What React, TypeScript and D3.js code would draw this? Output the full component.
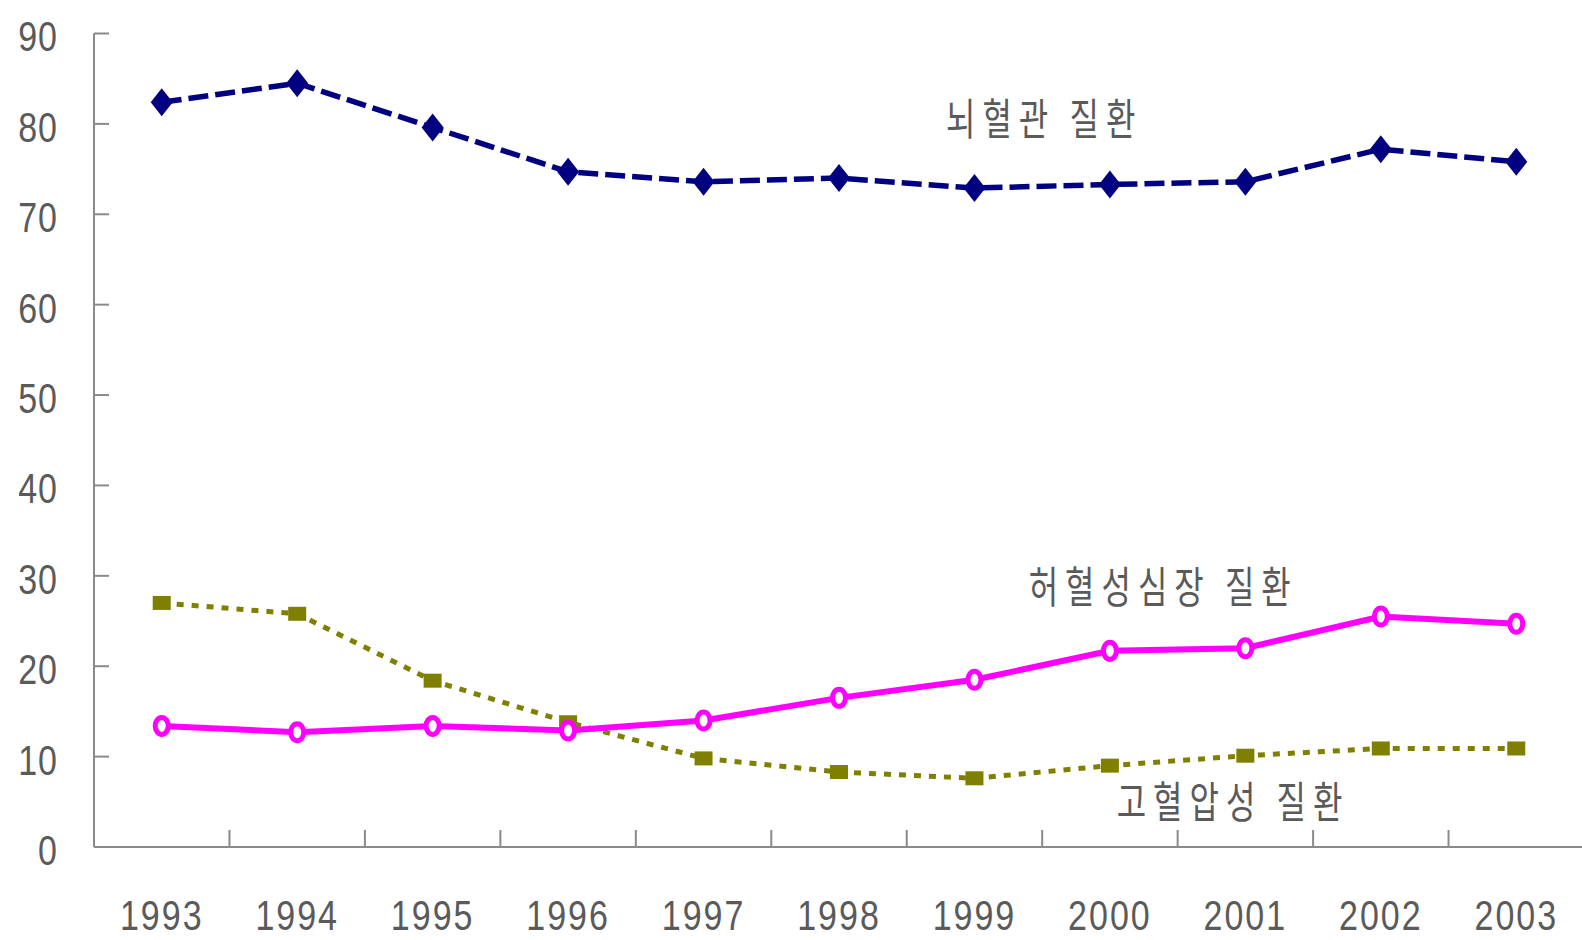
import React, { useRef, useEffect } from 'react';
import * as d3 from 'd3';

const years = ['1993', '1994', '1995', '1996', '1997', '1998', '1999', '2000', '2001', '2002', '2003'];
const yTicks = [0, 10, 20, 30, 40, 50, 60, 70, 80, 90];
// 뇌혈관 질환
const cerebro = [82.4, 84.5, 79.6, 74.7, 73.6, 74.0, 72.9, 73.3, 73.6, 77.2, 75.8];
// 허혈성심장 질환
const ischemic = [13.4, 12.7, 13.4, 12.9, 14.0, 16.5, 18.5, 21.7, 22.0, 25.5, 24.7];
// 고혈압성 질환
const hypertensive = [27.0, 25.8, 18.4, 13.8, 9.8, 8.3, 7.6, 9.0, 10.1, 10.9, 10.9];

const seriesLabels = ['뇌혈관 질환', '허혈성심장 질환', '고혈압성 질환'];
// 라벨 위치 (데이터 좌표: 연도 인덱스, 값)
const labelYear = [5.79, 6.4, 7.05];
const labelValue = [80.9, 29.1, 5.3];

const AXIS_COLOR = '#8a8a8a';
const TEXT_COLOR = '#5a5a5a';
const KO_FONT = '"Noto Sans CJK KR", "Noto Sans", sans-serif';
const NUM_FONT = '"Liberation Sans", Arial, sans-serif';

function drawChart(svgEle: SVGSVGElement) {
  const svg = d3.select(svgEle);
  svg.selectAll('*').remove();

  const left = 94;
  const right = 1584;
  const bottom = 847;
  const top = 33.5;

  const x = d3.scaleBand<string>().domain(years).range([left, right]);
  const cx = (i: number) => (x(years[i]) as number) + x.bandwidth() / 2;
  const y = d3.scaleLinear().domain([0, 90]).range([bottom, top]);

  // y 축
  svg.append('line')
    .attr('x1', left).attr('x2', left)
    .attr('y1', y(90)).attr('y2', y(0))
    .attr('stroke', AXIS_COLOR).attr('stroke-width', 2);
  svg.selectAll('.ytick')
    .data(yTicks)
    .enter()
    .append('line')
    .attr('x1', left).attr('x2', left + 15)
    .attr('y1', (d) => y(d)).attr('y2', (d) => y(d))
    .attr('stroke', AXIS_COLOR).attr('stroke-width', 2);
  svg.selectAll('.ylabel')
    .data(yTicks)
    .enter()
    .append('text')
    .attr('transform', (d) => `translate(58, ${y(d) + 3}) scale(1, 1.25)`)
    .attr('text-anchor', 'end')
    .attr('dominant-baseline', 'central')
    .attr('font-family', NUM_FONT)
    .attr('font-size', 34)
    .attr('letter-spacing', 1)
    .attr('fill', TEXT_COLOR)
    .text((d) => d);

  // x 축
  svg.append('line')
    .attr('x1', left).attr('x2', 1582)
    .attr('y1', bottom).attr('y2', bottom)
    .attr('stroke', AXIS_COLOR).attr('stroke-width', 2);
  svg.selectAll('.xtick')
    .data(years.slice(1))
    .enter()
    .append('line')
    .attr('x1', (d) => x(d) as number).attr('x2', (d) => x(d) as number)
    .attr('y1', bottom).attr('y2', bottom - 17)
    .attr('stroke', AXIS_COLOR).attr('stroke-width', 2);
  svg.selectAll('.xlabel')
    .data(years)
    .enter()
    .append('text')
    .attr('transform', (d, i) => `translate(${cx(i)}, 915) scale(1, 1.25)`)
    .attr('text-anchor', 'middle')
    .attr('dominant-baseline', 'central')
    .attr('font-family', NUM_FONT)
    .attr('font-size', 34)
    .attr('letter-spacing', 2)
    .attr('fill', TEXT_COLOR)
    .text((d) => d);

  const line = d3.line<number>()
    .x((d, i) => cx(i))
    .y((d) => y(d));

  // 고혈압성 질환 (점선)
  svg.append('path')
    .datum(hypertensive)
    .attr('d', line)
    .attr('fill', 'none')
    .attr('stroke', '#808000')
    .attr('stroke-width', 5)
    .attr('stroke-dasharray', '7 8');
  svg.selectAll('.sq')
    .data(hypertensive)
    .enter()
    .append('rect')
    .attr('x', (d, i) => cx(i) - 9)
    .attr('y', (d) => y(d) - 7)
    .attr('width', 18)
    .attr('height', 14)
    .attr('fill', '#808000');

  // 허혈성심장 질환 (실선)
  svg.append('path')
    .datum(ischemic)
    .attr('d', line)
    .attr('fill', 'none')
    .attr('stroke', '#ff00ff')
    .attr('stroke-width', 6);
  svg.selectAll('.circ')
    .data(ischemic)
    .enter()
    .append('ellipse')
    .attr('cx', (d, i) => cx(i))
    .attr('cy', (d) => y(d))
    .attr('rx', 6.5)
    .attr('ry', 8.5)
    .attr('fill', 'white')
    .attr('stroke', '#ff00ff')
    .attr('stroke-width', 5);

  // 뇌혈관 질환 (파선)
  svg.append('path')
    .datum(cerebro)
    .attr('d', line)
    .attr('fill', 'none')
    .attr('stroke', '#000080')
    .attr('stroke-width', 5.5)
    .attr('stroke-dasharray', '20 7');
  svg.selectAll('.dia')
    .data(cerebro)
    .enter()
    .append('path')
    .attr('d', (d, i) => {
      const px = cx(i);
      const py = y(d);
      return `M${px},${py - 14}L${px + 11},${py}L${px},${py + 14}L${px - 11},${py}Z`;
    })
    .attr('fill', '#000080');

  // 시리즈 라벨
  const xi = d3.scaleLinear().domain([0, years.length - 1]).range([cx(0), cx(years.length - 1)]);
  svg.selectAll('.slabel')
    .data(seriesLabels)
    .enter()
    .append('text')
    .attr('transform', (d, i) => `translate(${xi(labelYear[i])}, ${y(labelValue[i])}) scale(1, 1.35)`)
    .attr('dominant-baseline', 'central')
    .attr('font-family', KO_FONT)
    .attr('font-size', 32)
    .attr('letter-spacing', 7)
    .attr('fill', TEXT_COLOR)
    .text((d) => d);
}

export default function App(): JSX.Element {
  const svgRef = useRef<SVGSVGElement>(null);

  useEffect(() => {
    const svgEle = svgRef.current;
    if (svgEle == null) {
      return;
    }
    drawChart(svgEle);
  }, []);

  return (
    <svg
      ref={svgRef}
      width={1582}
      height={940}
      style={{ position: 'absolute', left: 0, top: 0, background: 'white' }}
    />
  );
}
